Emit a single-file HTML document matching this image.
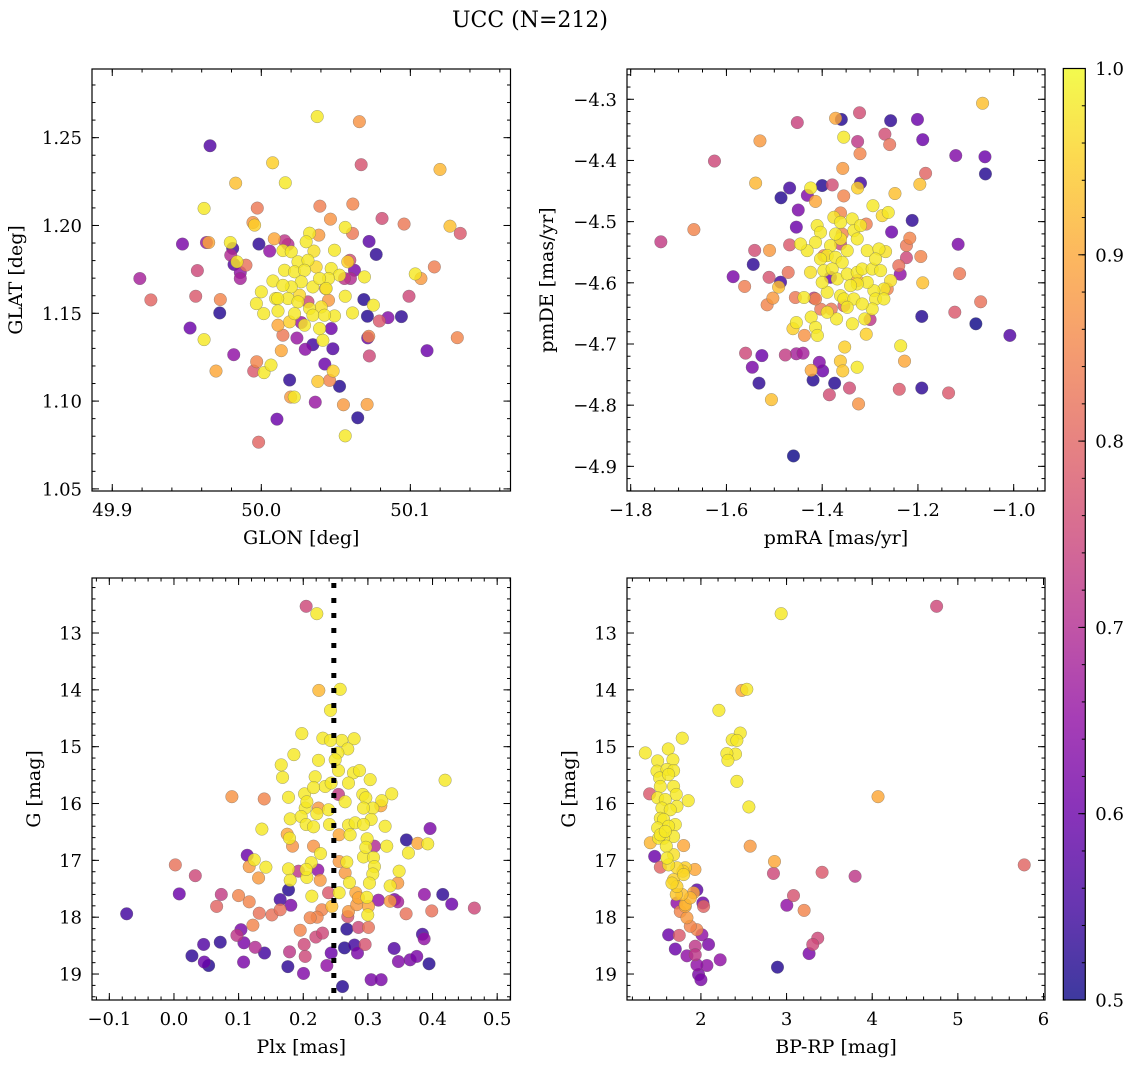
<!DOCTYPE html>
<html><head><meta charset="utf-8"><title>UCC (N=212)</title>
<style>
html,body{margin:0;padding:0;background:#fff;}
svg{display:block;font-family:"DejaVu Serif","Liberation Serif",serif;}
</style></head>
<body>
<svg id="fig" width="1136" height="1068" viewBox="0 0 1136 1068" xmlns="http://www.w3.org/2000/svg">
<defs>
<linearGradient id="plasmaGrad" x1="0" y1="1" x2="0" y2="0">
<stop offset="0" stop-color="#0d0887"/><stop offset="0.1" stop-color="#41049d"/><stop offset="0.2" stop-color="#6a00a8"/><stop offset="0.3" stop-color="#8f0da4"/><stop offset="0.4" stop-color="#b12a90"/><stop offset="0.5" stop-color="#cc4778"/><stop offset="0.6" stop-color="#e16462"/><stop offset="0.7" stop-color="#f2844b"/><stop offset="0.8" stop-color="#fca636"/><stop offset="0.9" stop-color="#fcce25"/><stop offset="1" stop-color="#f0f921"/>
</linearGradient>
</defs>
<text x="530" y="27" font-size="22" text-anchor="middle">UCC (N=212)</text>
</svg>
<script>
// ---------- Panel 1: GLON / GLAT ----------
const glon = [50.0375,50.0658,49.9656,50.067,50.1199,50.0076,50.0161,49.9828,49.9616,49.9973,50.0393,50.0614,50.0464,50.081,50.0958,50.1266,50.1335,49.9944,49.9955,50.0563,50.0612,49.9471,49.9632,49.9647,49.9792,49.9808,49.9795,49.9817,49.9837,49.9897,49.9859,49.9859,49.9185,49.9571,49.9259,49.956,49.9725,49.9721,49.9522,49.9616,49.9815,49.9696,49.9969,49.9949,50.0018,50.0065,50.019,50.0197,50.0221,49.9982,50.0105,50.0362,50.0379,50.0458,50.0482,50.0525,50.0426,50.0551,50.0563,50.071,50.0647,50.0725,50.0721,50.0714,50.048,50.0469,50.0346,50.0295,50.0239,50.0268,50.0134,50.0145,50.0688,50.0752,50.0712,50.0792,50.085,50.094,50.0991,50.1112,50.1315,50.1033,50.1071,50.1161,50.0723,50.0771,50.0692,50.0563,50.0612,50.0491,49.9984,50.0056,50.0087,50.0156,50.0179,50.0386,50.0491,50.0324,50.058,50.0594,50.0625,50.0558,50.0598,50.0469,50.0525,50.0451,50.0431,50.0451,50.0313,50.0078,50.0,49.9967,50.0016,50.0112,50.0096,50.0112,50.0145,50.0201,50.0301,50.0353,50.0246,50.0313,50.0156,50.0223,50.029,50.0368,50.0268,50.0346,50.0201,50.0179,50.0246,50.0324,50.0402,50.0223,50.0346,50.029,50.019,50.0391,50.0413,50.011,50.0424,50.0145,50.0257,50.0391,50.0435];
const glat = [1.262,1.2591,1.2454,1.2346,1.2319,1.2357,1.2243,1.2241,1.2097,1.2099,1.211,1.2122,1.2036,1.204,1.2008,1.1996,1.1955,1.2017,1.2002,1.1989,1.1955,1.1894,1.1903,1.1903,1.1903,1.1869,1.1831,1.1778,1.1793,1.1774,1.1732,1.1698,1.1698,1.1743,1.1576,1.1597,1.1578,1.1502,1.1416,1.135,1.1264,1.1171,1.1224,1.1171,1.1162,1.1205,1.112,1.1023,1.1023,1.0766,1.0897,1.0994,1.1112,1.1118,1.1171,1.1084,1.1211,1.0979,1.0802,1.0981,1.0905,1.1257,1.1369,1.136,1.1298,1.1413,1.1321,1.1295,1.1359,1.1447,1.1287,1.1375,1.1578,1.1546,1.1483,1.1456,1.1475,1.1481,1.1597,1.1287,1.1361,1.1724,1.1698,1.1764,1.1909,1.1835,1.1707,1.1597,1.1502,1.1485,1.1894,1.1854,1.1924,1.1913,1.1892,1.1945,1.1859,1.1956,1.1793,1.1802,1.1745,1.1698,1.1698,1.1755,1.1717,1.1698,1.1641,1.1574,1.1565,1.1684,1.1622,1.1555,1.1498,1.1513,1.1584,1.1432,1.1857,1.185,1.1907,1.1854,1.1793,1.1802,1.1745,1.1736,1.1745,1.1764,1.1679,1.165,1.165,1.1584,1.1565,1.1527,1.1536,1.1498,1.1489,1.1432,1.1451,1.1413,1.1346,1.1584,1.1489,1.1659,1.1603,1.1698,1.1641];
const prob1 = [0.98,0.87,0.57,0.77,0.92,0.95,0.98,0.93,0.98,0.83,0.84,0.85,0.87,0.76,0.83,0.93,0.78,0.87,0.95,0.98,0.83,0.62,0.66,0.9,0.98,0.55,0.7,0.57,0.98,0.82,0.65,0.68,0.68,0.75,0.8,0.78,0.85,0.52,0.6,0.98,0.65,0.9,0.85,0.78,0.98,0.98,0.53,0.88,0.98,0.8,0.6,0.66,0.94,0.85,0.95,0.52,0.6,0.88,0.98,0.89,0.52,0.75,0.85,0.6,0.57,0.6,0.55,0.64,0.66,0.66,0.9,0.83,0.52,0.98,0.52,0.78,0.63,0.53,0.75,0.6,0.85,0.98,0.88,0.84,0.58,0.53,0.98,0.98,0.98,0.98,0.53,0.65,0.9,0.72,0.7,0.88,0.98,0.98,0.95,0.76,0.62,0.72,0.7,0.98,0.98,0.98,0.9,0.88,0.75,0.98,0.98,0.98,0.98,0.98,0.98,0.9,0.98,0.98,0.98,0.97,0.98,0.98,0.98,0.98,0.98,0.96,0.98,0.98,0.98,0.98,0.98,0.98,0.97,0.98,0.98,0.98,0.95,0.98,0.98,0.98,0.98,0.98,0.96,0.98,0.98];
const xTicks1 = [49.9,50.0,50.1];
const xTickLabels1 = ["49.9","50.0","50.1"];
const yTicks1 = [1.05,1.10,1.15,1.20,1.25];
const yTickLabels1 = ["1.05","1.10","1.15","1.20","1.25"];

// ---------- Panel 2: pmRA / pmDE ----------
const pmra = [-1.065,-1.322,-1.372,-1.36,-1.452,-1.257,-1.201,-1.355,-1.326,-1.269,-1.259,-1.19,-1.53,-1.625,-1.321,-1.121,-1.06,-1.059,-1.184,-1.196,-1.357,-1.539,-1.468,-1.486,-1.431,-1.424,-1.414,-1.4,-1.379,-1.32,-1.326,-1.355,-1.248,-1.294,-1.262,-1.45,-1.454,-1.668,-1.737,-1.212,-1.308,-1.255,-1.217,-1.224,-1.194,-1.224,-1.24,-1.237,-1.116,-1.113,-1.19,-1.192,-1.123,-1.069,-1.079,-1.008,-1.541,-1.51,-1.468,-1.544,-1.586,-1.562,-1.511,-1.487,-1.491,-1.471,-1.503,-1.515,-1.456,-1.438,-1.417,-1.403,-1.381,-1.3,-1.37,-1.337,-1.311,-1.308,-1.454,-1.461,-1.423,-1.414,-1.41,-1.437,-1.353,-1.236,-1.228,-1.362,-1.357,-1.327,-1.56,-1.526,-1.546,-1.532,-1.477,-1.454,-1.44,-1.406,-1.399,-1.423,-1.419,-1.374,-1.385,-1.343,-1.324,-1.506,-1.239,-1.192,-1.136,-1.46,-1.4105,-1.4035,-1.3756,-1.3617,-1.3373,-1.3338,-1.3268,-1.3059,-1.2815,-1.2676,-1.4139,-1.3826,-1.3617,-1.3477,-1.3895,-1.3721,-1.3582,-1.4035,-1.4244,-1.3965,-1.3791,-1.3686,-1.3477,-1.3268,-1.3164,-1.2955,-1.278,-1.2571,-1.2711,-1.292,-1.3059,-1.3268,-1.3408,-1.3617,-1.3547,-1.3338,-1.3477,-1.3895,-1.4,-1.4314,-1.4453,-1.3721,-1.3199,-1.2746,-1.2885,-1.2885,-1.2711,-1.2955,-1.3164,-1.3895,-1.3617,-1.3582,-1.3617,-1.3965,-1.3826,-1.3268,-1.2641,-1.3547,-1.4139];
const pmde = [-4.3065,-4.322,-4.331,-4.333,-4.338,-4.335,-4.333,-4.362,-4.369,-4.357,-4.374,-4.366,-4.368,-4.401,-4.389,-4.392,-4.394,-4.422,-4.421,-4.439,-4.413,-4.437,-4.445,-4.461,-4.457,-4.445,-4.467,-4.441,-4.44,-4.437,-4.445,-4.458,-4.454,-4.474,-4.485,-4.481,-4.509,-4.513,-4.533,-4.498,-4.504,-4.517,-4.527,-4.539,-4.557,-4.559,-4.572,-4.586,-4.537,-4.585,-4.6,-4.655,-4.648,-4.631,-4.667,-4.686,-4.547,-4.547,-4.538,-4.57,-4.59,-4.606,-4.591,-4.599,-4.607,-4.583,-4.625,-4.636,-4.624,-4.624,-4.625,-4.643,-4.643,-4.66,-4.659,-4.667,-4.659,-4.684,-4.665,-4.675,-4.656,-4.673,-4.686,-4.686,-4.705,-4.703,-4.728,-4.728,-4.744,-4.738,-4.715,-4.719,-4.738,-4.764,-4.718,-4.716,-4.715,-4.73,-4.744,-4.743,-4.759,-4.764,-4.783,-4.772,-4.798,-4.791,-4.774,-4.772,-4.78,-4.883,-4.5065,-4.5174,-4.4929,-4.5011,-4.4956,-4.5147,-4.5283,-4.5474,-4.5447,-4.549,-4.5338,-4.5392,-4.5283,-4.5474,-4.5556,-4.5583,-4.5665,-4.561,-4.5828,-4.5801,-4.5774,-4.5937,-4.5856,-4.5828,-4.5774,-4.5774,-4.5801,-4.5965,-4.6101,-4.6128,-4.5992,-4.6019,-4.6046,-4.621,-4.6264,-4.6264,-4.6401,-4.6155,-4.5992,-4.5474,-4.5365,-4.5202,-4.5065,-4.4902,-4.561,-4.6264,-4.6264,-4.6428,-4.6346,-4.6482,-4.4858,-4.5202,-4.5365,-4.5556,-4.591,-4.5965,-4.6101,-4.6373,-4.6264];
const prob2 = [0.93,0.76,0.9,0.52,0.74,0.53,0.6,0.98,0.72,0.76,0.82,0.6,0.88,0.75,0.85,0.63,0.6,0.52,0.8,0.93,0.88,0.92,0.55,0.52,0.63,0.98,0.9,0.52,0.76,0.55,0.95,0.85,0.93,0.98,0.98,0.62,0.6,0.85,0.73,0.53,0.84,0.6,0.85,0.83,0.85,0.75,0.82,0.65,0.62,0.83,0.93,0.52,0.78,0.82,0.5,0.57,0.76,0.88,0.78,0.53,0.62,0.84,0.77,0.55,0.93,0.82,0.88,0.85,0.83,0.98,0.72,0.83,0.83,0.72,0.98,0.98,0.98,0.95,0.98,0.95,0.98,0.98,0.98,0.87,0.95,0.98,0.9,0.94,0.94,0.98,0.75,0.6,0.62,0.53,0.73,0.68,0.68,0.63,0.6,0.9,0.52,0.52,0.76,0.76,0.87,0.93,0.78,0.53,0.78,0.5,0.98,0.98,0.97,0.98,0.98,0.98,0.98,0.98,0.98,0.97,0.98,0.98,0.98,0.98,0.98,0.98,0.98,0.98,0.97,0.98,0.98,0.98,0.98,0.98,0.98,0.98,0.98,0.97,0.98,0.98,0.98,0.98,0.98,0.98,0.98,0.98,0.98,0.98,0.98,0.98,0.98,0.98,0.98,0.96,0.98,0.98,0.98,0.98,0.98,0.98,0.85,0.85,0.75,0.85,0.6,0.9,0.85,0.78,0.85];
const xTicks2 = [-1.8,-1.6,-1.4,-1.2,-1.0];
const xTickLabels2 = ["\u22121.8","\u22121.6","\u22121.4","\u22121.2","\u22121.0"];
const yTicks2 = [-4.9,-4.8,-4.7,-4.6,-4.5,-4.4,-4.3];
const yTickLabels2 = ["\u22124.9","\u22124.8","\u22124.7","\u22124.6","\u22124.5","\u22124.4","\u22124.3"];

// ---------- Panel 3: Plx / G ----------
const plx = [0.2045,0.221,0.2241,0.2571,0.2421,0.1978,0.2303,0.2597,0.2787,0.2689,0.1855,0.2236,0.2535,0.1659,0.168,0.2184,0.2545,0.2777,0.287,0.3035,0.27,0.4194,0.2339,0.0896,0.1396,0.1772,0.202,0.203,0.2545,0.2648,0.2921,0.2968,0.3215,0.3369,0.32,0.3076,0.2391,0.1798,0.1968,0.2045,0.2159,0.27,0.305,0.3266,0.136,0.2555,0.2725,0.3962,0.1752,0.1788,0.1834,0.2988,0.3292,0.3596,0.3771,0.3926,0.3627,0.2267,0.2123,0.1927,0.2226,0.1133,0.1242,0.1164,0.1422,0.1309,0.0021,0.033,0.0082,-0.0732,0.1772,0.1798,0.1772,0.2056,0.2262,0.2555,0.2648,0.2715,0.2932,0.3086,0.3101,0.3076,0.3024,0.3483,0.3344,0.3462,0.2555,0.2133,0.2391,0.2813,0.3009,0.2998,0.27,0.2288,0.2215,0.2107,0.2689,0.3163,0.3344,0.3411,0.3462,0.3874,0.4158,0.4297,0.4647,0.3988,0.3591,0.0732,0.0999,0.066,0.1164,0.1319,0.1515,0.1643,0.1643,0.1808,0.1221,0.1036,0.0974,0.1082,0.1257,0.1401,0.0716,0.0459,0.0278,0.0469,0.0536,0.1077,0.1953,0.1788,0.1762,0.2014,0.203,0.2195,0.2298,0.2004,0.2365,0.2432,0.2638,0.2674,0.2792,0.2839,0.2854,0.3009,0.2957,0.2607,0.305,0.3205,0.3406,0.3472,0.3653,0.3756,0.3844,0.387,0.3946,0.2421,0.2494,0.2159,0.2432,0.2056,0.2932,0.2236,0.221,0.2406,0.2803,0.2932,0.2159,0.2968,0.3101,0.2045,0.2674,0.2854,0.2983,0.2828,0.2442];
const gmag3 = [12.53,12.66,14.01,13.99,14.36,14.77,14.85,14.89,14.86,15.04,15.14,15.24,15.11,15.32,15.54,15.53,15.42,15.46,15.42,15.58,15.64,15.59,15.7,15.88,15.92,15.89,15.83,16.08,15.84,15.97,15.84,15.9,15.95,15.83,16.04,16.08,16.11,16.27,16.23,16.37,16.41,16.38,16.28,16.4,16.45,16.55,16.55,16.44,16.54,16.61,16.75,16.62,16.75,16.64,16.7,16.71,16.87,16.88,17.04,17.19,17.17,16.91,16.99,17.11,17.12,17.31,17.08,17.27,17.59,17.94,17.15,17.35,17.52,17.3,17.35,17.02,17.22,17.39,16.94,16.95,17.11,17.24,17.4,17.19,17.45,17.4,17.57,17.63,17.57,17.57,17.81,17.96,17.9,17.87,18.0,18.01,17.99,17.7,17.72,17.69,17.73,17.6,17.6,17.77,17.84,17.89,17.94,17.6,17.62,17.81,17.73,17.93,17.96,17.69,17.87,17.79,18.14,18.22,18.32,18.45,18.53,18.63,18.44,18.48,18.68,18.79,18.85,18.79,18.23,18.61,18.87,18.48,18.69,18.35,18.28,18.99,18.85,18.63,18.54,18.21,18.49,18.63,18.18,18.18,18.48,19.22,19.1,19.1,18.55,18.78,18.75,18.69,18.3,18.38,18.82,14.89,15.23,15.72,15.64,15.97,16.08,16.08,16.18,16.37,16.34,16.37,16.75,16.77,16.75,17.16,17.03,17.66,17.65,17.78,17.81];
const prob3 = [0.75,0.98,0.92,0.98,0.98,0.98,0.98,0.98,0.98,0.98,0.98,0.98,0.98,0.98,0.98,0.98,0.98,0.98,0.98,0.98,0.98,0.98,0.98,0.87,0.85,0.98,0.98,0.98,0.73,0.98,0.98,0.98,0.98,0.98,0.9,0.98,0.98,0.98,0.98,0.98,0.98,0.98,0.98,0.98,0.98,0.9,0.98,0.62,0.9,0.98,0.87,0.98,0.98,0.52,0.9,0.98,0.98,0.98,0.98,0.72,0.65,0.6,0.98,0.88,0.98,0.88,0.82,0.75,0.6,0.55,0.98,0.98,0.52,0.98,0.88,0.88,0.88,0.98,0.98,0.98,0.98,0.98,0.98,0.98,0.98,0.88,0.98,0.98,0.78,0.9,0.9,0.98,0.88,0.85,0.85,0.85,0.77,0.65,0.88,0.62,0.68,0.65,0.53,0.6,0.75,0.82,0.82,0.73,0.85,0.8,0.85,0.82,0.82,0.55,0.82,0.62,0.85,0.62,0.72,0.62,0.7,0.55,0.53,0.57,0.53,0.6,0.52,0.62,0.85,0.72,0.53,0.75,0.75,0.75,0.75,0.63,0.65,0.6,0.52,0.52,0.55,0.62,0.75,0.82,0.77,0.52,0.62,0.62,0.57,0.63,0.62,0.62,0.55,0.65,0.52,0.98,0.98,0.98,0.98,0.98,0.98,0.88,0.98,0.98,0.98,0.98,0.87,0.98,0.7,0.98,0.98,0.9,0.98,0.88,0.93];
const xTicks3 = [-0.1,0.0,0.1,0.2,0.3,0.4,0.5];
const xTickLabels3 = ["\u22120.1","0.0","0.1","0.2","0.3","0.4","0.5"];
const yTicks3 = [13,14,15,16,17,18,19];
const yTickLabels3 = ["13","14","15","16","17","18","19"];
const plxRef = [0.2473];

// ---------- Panel 4: BP-RP / G ----------
const bprp = [4.752,2.937,2.478,2.536,2.21,2.459,2.365,2.42,2.404,2.303,2.315,2.42,2.56,2.575,4.068,2.859,2.847,3.415,3.8,5.775,3.081,3.003,3.205,3.364,3.306,3.263,2.894,1.782,1.619,1.351,1.401,1.46,1.409,1.798,1.852,1.526,1.93,1.953,2.031,1.623,1.747,1.701,1.837,2.089,2.225,2.07,1.953,1.973,2.0,1.934,1.934,2.012,1.953,1.876,1.837,1.759,1.914,1.817,2.023,1.72,1.495,1.673,1.487,1.604,1.681,1.518,1.623,1.526,1.681,1.712,1.495,1.584,1.72,1.545,1.642,1.526,1.565,1.701,1.495,1.623,1.681,1.565,1.506,1.596,1.681,1.604,1.623,1.72,1.817,1.798,1.681,1.72,1.778,1.817,1.876,1.712,1.662,1.79,1.526,1.584];
const gmag4 = [12.53,12.66,14.01,13.99,14.36,14.76,14.88,14.89,15.13,15.12,15.24,15.61,16.06,16.75,15.88,17.02,17.23,17.21,17.28,17.08,17.62,17.79,17.88,18.37,18.48,18.64,18.88,14.85,15.04,15.11,15.83,16.93,16.69,16.74,15.95,17.12,17.16,17.52,17.81,18.31,18.32,18.56,18.68,18.48,18.75,18.85,18.84,19.01,19.1,18.51,18.66,18.31,18.22,18.16,18.01,17.9,17.57,17.81,17.75,17.75,15.25,15.23,15.43,15.4,15.42,15.55,15.49,15.7,15.7,15.84,15.9,15.93,16.05,16.08,16.11,16.26,16.28,16.37,16.43,16.4,16.58,16.61,16.61,16.75,16.9,16.96,17.08,17.13,17.13,17.25,17.34,17.46,17.6,17.78,17.66,17.6,17.4,17.19,16.55,16.49];
const prob4 = [0.75,0.98,0.9,0.98,0.98,0.98,0.98,0.98,0.98,0.98,0.98,0.98,0.98,0.88,0.9,0.9,0.75,0.78,0.72,0.8,0.77,0.65,0.85,0.75,0.75,0.62,0.52,0.98,0.98,0.98,0.78,0.6,0.92,0.9,0.98,0.8,0.9,0.58,0.8,0.6,0.78,0.6,0.65,0.62,0.65,0.65,0.65,0.62,0.62,0.72,0.72,0.65,0.85,0.85,0.88,0.85,0.9,0.9,0.6,0.65,0.98,0.98,0.98,0.98,0.98,0.98,0.98,0.98,0.98,0.98,0.98,0.98,0.98,0.98,0.98,0.98,0.98,0.98,0.98,0.98,0.98,0.98,0.98,0.98,0.97,0.98,0.97,0.96,0.95,0.96,0.95,0.95,0.93,0.92,0.92,0.94,0.96,0.95,0.98,0.98];
const xTicks4 = [2,3,4,5,6];
const xTickLabels4 = ["2","3","4","5","6"];
const yTicks4 = [13,14,15,16,17,18,19];
const yTickLabels4 = ["13","14","15","16","17","18","19"];

// ---------- Colorbar ----------
const cbTicks = [0.5,0.6,0.7,0.8,0.9,1.0];
const cbTickLabels = ["0.5","0.6","0.7","0.8","0.9","1.0"];

const NS = "http://www.w3.org/2000/svg";
const svg = document.getElementById('fig');
const plasma = ["#0d0887","#41049d","#6a00a8","#8f0da4","#b12a90","#cc4778","#e16462","#f2844b","#fca636","#fcce25","#f0f921"];
function hex(c){return [parseInt(c.slice(1,3),16),parseInt(c.slice(3,5),16),parseInt(c.slice(5,7),16)];}
function cmap(p){
  let t=(p-0.5)/0.5; t=Math.max(0,Math.min(1,t));
  const f=t*10, i=Math.min(9,Math.floor(f)), r=f-i;
  const a=hex(plasma[i]), b=hex(plasma[i+1]);
  return "rgb("+a.map((v,k)=>Math.round(v+(b[k]-v)*r)).join(",")+")";
}
function mk(tag, attrs, parent){
  const e=document.createElementNS(NS,tag);
  for(const k in attrs) e.setAttribute(k, attrs[k]);
  (parent||svg).appendChild(e); return e;
}
function panel(cfg){
  const g=mk('g',{});
  
  
  const [x0,y0,x1,y1]=cfg.box;
  const sx=v=>x0+(v-cfg.xd[0])/(cfg.xd[1]-cfg.xd[0])*(x1-x0);
  const sy=v=>y1-(v-cfg.yd[0])/(cfg.yd[1]-cfg.yd[0])*(y1-y0);
  const idx=cfg.xs.map((_,i)=>i).sort((a,b)=>cfg.ps[a]-cfg.ps[b]);
  const pg=mk('g',{},g);
  
  
  idx.forEach(i=>{
    const c=mk('circle',{cx:sx(cfg.xs[i]).toFixed(2),cy:sy(cfg.ys[i]).toFixed(2),r:6.3,fill:cmap(cfg.ps[i]),'fill-opacity':0.82,stroke:'#606060','stroke-opacity':0.6,'stroke-width':0.5},pg);
    
    
  });
  if(cfg.vline){
    cfg.vline.forEach(v=>{
      const l=mk('line',{x1:sx(v),x2:sx(v),y1:y0+5,y2:y1,stroke:'#000','stroke-width':5,'stroke-dasharray':'5 10'},g);
      
      
    });
  }
  const fr=mk('rect',{x:x0,y:y0,width:x1-x0,height:y1-y0,fill:'none',stroke:'#000','stroke-width':1.2},g);
  
  
  const tg=mk('g',{stroke:'#000','stroke-width':1},g);
  const xlo=Math.min(...cfg.xd), xhi=Math.max(...cfg.xd);
  const ylo=Math.min(...cfg.yd), yhi=Math.max(...cfg.yd);
  for(let k=Math.ceil(xlo/cfg.xmin-1e-6);k*cfg.xmin<=xhi+1e-9;k++){
    const X=sx(k*cfg.xmin);
    mk('line',{x1:X,x2:X,y1:y1,y2:y1-3.5},tg); mk('line',{x1:X,x2:X,y1:y0,y2:y0+3.5},tg);
  }
  for(let k=Math.ceil(ylo/cfg.ymin-1e-6);k*cfg.ymin<=yhi+1e-9;k++){
    const Y=sy(k*cfg.ymin);
    mk('line',{x1:x0,x2:x0+3.5,y1:Y,y2:Y},tg); mk('line',{x1:x1,x2:x1-3.5,y1:Y,y2:Y},tg);
  }
  cfg.xt.forEach((v,i)=>{
    const X=sx(v);
    mk('line',{x1:X,x2:X,y1:y1,y2:y1-7},tg); mk('line',{x1:X,x2:X,y1:y0,y2:y0+7},tg);
    const t=mk('text',{x:X,y:y1+25,'font-size':18,'text-anchor':'middle'},g);
    t.textContent=cfg.xl[i];
    
    
  });
  cfg.yt.forEach((v,i)=>{
    const Y=sy(v);
    mk('line',{x1:x0,x2:x0+7,y1:Y,y2:Y},tg); mk('line',{x1:x1,x2:x1-7,y1:Y,y2:Y},tg);
    const t=mk('text',{x:x0-10,y:Y+6.5,'font-size':18,'text-anchor':'end'},g);
    t.textContent=cfg.yl[i];
    
    
  });
  const xt=mk('text',{x:(x0+x1)/2,y:y1+53,'font-size':19,'text-anchor':'middle'},g);
  xt.textContent=cfg.xlabel;
  
  
  const yt=mk('text',{x:0,y:0,'font-size':19,'text-anchor':'middle',transform:'translate('+(cfg.ylx)+','+((y0+y1)/2)+') rotate(-90)'},g);
  yt.textContent=cfg.ylabel;
  
  
}
panel({name:'glon-glat-panel',box:[92,69,510.5,491],xd:[49.8864,50.1672],yd:[1.0488,1.2891],xs:glon,ys:glat,ps:prob1,xt:xTicks1,xl:xTickLabels1,yt:yTicks1,yl:yTickLabels1,xmin:0.02,ymin:0.01,xlabel:'GLON [deg]',ylabel:'GLAT [deg]',ylx:22});
panel({name:'pm-panel',box:[627,69,1045,491],xd:[-1.8077,-0.9346],yd:[-4.9403,-4.2505],xs:pmra,ys:pmde,ps:prob2,xt:xTicks2,xl:xTickLabels2,yt:yTicks2,yl:yTickLabels2,xmin:0.05,ymin:0.02,xlabel:'pmRA [mas/yr]',ylabel:'pmDE [mas/yr]',ylx:553});
panel({name:'plx-g-panel',box:[92,578,510.5,1000],xd:[-0.1268,0.5206],yd:[19.457,12.032],xs:plx,ys:gmag3,ps:prob3,xt:xTicks3,xl:xTickLabels3,yt:yTicks3,yl:yTickLabels3,xmin:0.02,ymin:0.2,xlabel:'Plx [mas]',ylabel:'G [mag]',ylx:40,vline:plxRef});
panel({name:'cmd-panel',box:[627,578,1045,1000],xd:[1.137,6.0175],yd:[19.457,12.032],xs:bprp,ys:gmag4,ps:prob4,xt:xTicks4,xl:xTickLabels4,yt:yTicks4,yl:yTickLabels4,xmin:0.2,ymin:0.2,xlabel:'BP-RP [mag]',ylabel:'G [mag]',ylx:575});

(function(){
  const cx0=1063.3, cx1=1085.3, cy0=68.5, cy1=1000;
  const g=mk('g',{});
  
  
  mk('rect',{x:cx0,y:cy0,width:cx1-cx0,height:cy1-cy0,fill:'url(#plasmaGrad)','fill-opacity':0.8},g);
  mk('rect',{x:cx0,y:cy0,width:cx1-cx0,height:cy1-cy0,fill:'none',stroke:'#000','stroke-width':1.2},g);
  const sy=v=>cy1-(v-0.5)/0.5*(cy1-cy0);
  for(let k=25;k<=50;k++){
    const Y=sy(k*0.02);
    mk('line',{x1:cx1,x2:cx1-3.5,y1:Y,y2:Y,stroke:'#000','stroke-width':1},g);
  }
  cbTicks.forEach((v,i)=>{
    const Y=sy(v);
    mk('line',{x1:cx1,x2:cx1-7,y1:Y,y2:Y,stroke:'#000','stroke-width':1},g);
    const t=mk('text',{x:cx1+10,y:Y+6.5,'font-size':18},g);
    t.textContent=cbTickLabels[i];
    
    
  });
})();
</script>
</body></html>
